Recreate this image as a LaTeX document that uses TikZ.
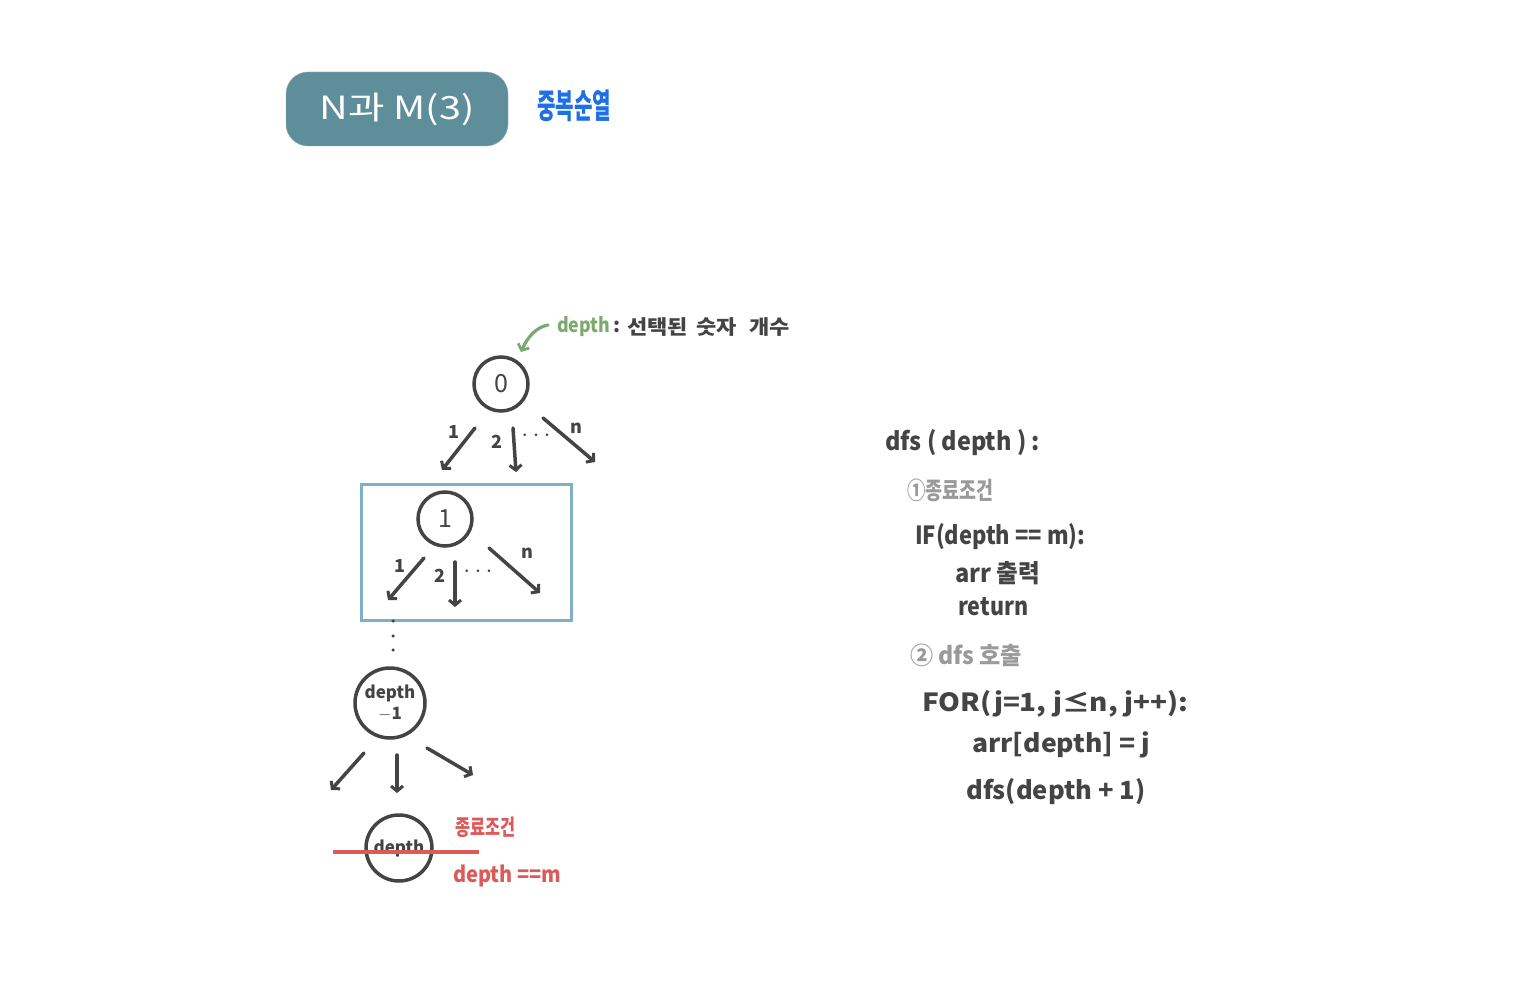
\documentclass[tikz,border=0pt]{standalone}
\usepackage{fontspec}
\usepackage{graphicx}
\setmainfont{Noto Sans CJK KR}
\usetikzlibrary{arrows.meta}
\definecolor{ink}{HTML}{444444}
\definecolor{teal}{HTML}{5F8E9B}
\definecolor{tblue}{HTML}{1F6FE5}
\definecolor{tgreen}{HTML}{7BAA6E}
\definecolor{tgray}{HTML}{9A9A9A}
\definecolor{rblue}{HTML}{7FAFC7}
\definecolor{tred}{HTML}{DC5A5A}
\newcommand{\fitw}[2]{\resizebox{#1pt}{\height}{#2}}
\tikzset{
  circ/.style={circle,draw=ink,line width=3.5pt,inner sep=0pt,text=ink},
  edge/.style={draw=ink,line width=3.5pt,line cap=round,-{Straight Barb[length=5pt,width=12pt,line width=3pt]}},
  lbl/.style={text=ink,font=\fontsize{18}{20}\selectfont\bfseries,inner sep=0pt},
  code/.style={text=ink,anchor=west,inner sep=0pt,font=\fontsize{25}{28}\selectfont\bfseries},
  sub/.style={text=tgray,anchor=west,inner sep=0pt,font=\fontsize{24}{26}\selectfont\bfseries},
  dot/.style={circle,fill=ink,inner sep=0pt,minimum size=3.5pt}
}
\begin{document}
\begin{tikzpicture}[x=1pt,y=-1pt]
\useasboundingbox (0,0) rectangle (1534,1000);
\fill[white] (0,0) rectangle (1534,1000);
% title
\node[fill=teal,draw=teal!80!black!60,rounded corners=22pt,minimum width=222pt,minimum height=74pt,text=white,font=\fontsize{32}{34}\selectfont] (title) at (397,109) {\fitw{155}{N과 M(3)}};
\node[text=tblue,font=\fontsize{34}{36}\selectfont\bfseries,inner sep=0pt] (perm) at (574,106) {\fitw{74}{중복순열}};
% depth annotation
\node[anchor=west,inner sep=0pt,text=tgreen,font=\fontsize{20}{22}\selectfont\bfseries] (dlab) at (557,327) {\fitw{53}{depth}};
\node[anchor=west,inner sep=0pt,text=ink,font=\fontsize{20}{22}\selectfont\bfseries] (dcol) at (613,327) {:};
\node[anchor=west,inner sep=0pt,text=ink,font=\fontsize{20}{22}\selectfont\bfseries] (dtxt) at (627,327) {\fitw{163}{선택된\, 숫자\,\, 개수}};
% tree
\node[circ,minimum size=54pt,font=\fontsize{25}{27}\selectfont] (n0) at (501,384) {0};
\coordinate (g0) at (521,352);
\coordinate (gs) at (548,325);
\draw[draw=tgreen,line width=3.2pt,line cap=round,-{Straight Barb[length=5pt,width=12pt,line width=2.8pt]}] (gs) .. controls (536,327) and (527,338) .. (g0);
\coordinate (a1s) at (475,428); \coordinate (a1e) at (442,470);
\coordinate (a2s) at (513,428); \coordinate (a2e) at (516,472);
\coordinate (a3s) at (543,418); \coordinate (a3e) at (595,462);
\draw[edge] (a1s) -- (a1e);
\draw[edge] (a2s) -- (a2e);
\draw[edge] (a3s) -- (a3e);
\node[lbl] (l01) at (454,432) {1};
\node[lbl] (l02) at (497,442) {2};
\node[lbl,font=\fontsize{24}{26}\selectfont] (l0d) at (536,436) {$\cdots$};
\node[lbl] (l0n) at (576,428) {n};
% box
\node[draw=rblue,line width=3pt,minimum width=210pt,minimum height=136pt,inner sep=0pt] (box) at (466,552) {};
\node[circ,minimum size=54pt,font=\fontsize{25}{27}\selectfont] (n1) at (445,519) {1};
\coordinate (b1s) at (424,558); \coordinate (b1e) at (388,600);
\coordinate (b2s) at (455,562); \coordinate (b2e) at (455,607);
\coordinate (b3s) at (489,548); \coordinate (b3e) at (540,593);
\draw[edge] (b1s) -- (b1e);
\draw[edge] (b2s) -- (b2e);
\draw[edge] (b3s) -- (b3e);
\node[lbl] (l11) at (400,566) {1};
\node[lbl] (l12) at (440,576) {2};
\node[lbl,font=\fontsize{24}{26}\selectfont] (l1d) at (478,572) {$\cdots$};
\node[lbl] (l1n) at (527,553) {n};
\node[dot] (v1) at (393,621) {};
\node[dot] (v2) at (393,636) {};
\node[dot] (v3) at (393,650) {};
% depth-1
\node[circ,minimum size=70pt,align=center,font=\fontsize{17}{21}\selectfont\bfseries] (nd1) at (390,703) {depth\\$-$1};
\coordinate (c1s) at (364,753); \coordinate (c1e) at (331,790);
\coordinate (c2s) at (397,755); \coordinate (c2e) at (397,793);
\coordinate (c3s) at (427,748); \coordinate (c3e) at (473,775);
\draw[edge] (c1s) -- (c1e);
\draw[edge] (c2s) -- (c2e);
\draw[edge] (c3s) -- (c3e);
% depth
\node[circ,minimum size=66pt,font=\fontsize{17}{19}\selectfont\bfseries] (nd) at (399,848) {depth};
\coordinate (rs) at (333,852); \coordinate (re) at (479,852);
\draw[tred,line width=3.2pt] (rs) -- (re);
\node[anchor=west,inner sep=0pt,text=tred,font=\fontsize{22}{24}\selectfont\bfseries] (end1) at (455,827) {\fitw{60}{종료조건}};
\node[anchor=west,inner sep=0pt,text=tred,font=\fontsize{22}{24}\selectfont\bfseries] (end2) at (453,876) {\fitw{108}{depth ==m}};
% code
\node[code] (c1) at (885,443) {\fitw{155}{dfs ( depth ) :}};
\node[sub] (s1) at (907,490) {\fitw{86}{①종료조건}};
\node[code] (c2) at (915,537) {\fitw{170}{IF(depth == m):}};
\node[code] (c3) at (955,573) {\fitw{85}{arr 출력}};
\node[code] (c4) at (958,607) {\fitw{70}{return}};
\node[sub] (s2) at (910,655) {\fitw{112}{② dfs 호출}};
\node[code] (c5) at (922,704) {\fitw{266}{FOR(j=1, j≤n, j++):}};
\node[code] (c6) at (972,745) {\fitw{178}{arr[depth] = j}};
\node[code] (c7) at (966,792) {\fitw{179}{dfs(depth + 1)}};
\end{tikzpicture}
\end{document}
